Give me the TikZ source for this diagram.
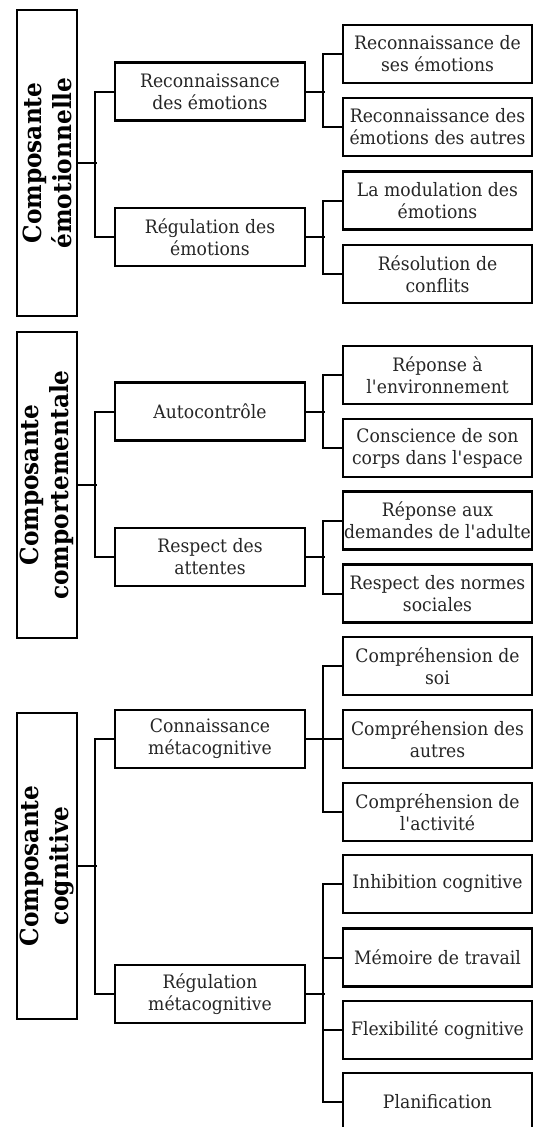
\documentclass[tikz,border=0pt]{standalone}
\usepackage{fontspec}
\setmainfont{DejaVu Serif}[FakeStretch=0.93]
\begin{document}
\begin{tikzpicture}[x=1pt,y=-1pt,
  box/.style={draw=black, line width=2.3pt, inner sep=0pt, align=center,
    font=\fontsize{18.5}{22}\selectfont, text=black!85},
  mid/.style={box, minimum width=190pt, minimum height=58pt},
  leaf/.style={box, minimum width=189pt, minimum height=58pt},
  main/.style={draw=black, line width=2.3pt, inner sep=0pt, align=center,
    minimum width=306pt, minimum height=60pt, rotate=90,
    font=\bfseries\fontsize{25}{30}\selectfont},
  link/.style={draw=black, line width=2pt}]
\useasboundingbox (0,0) rectangle (534,1127);
\fill[white] (0,0) rectangle (534,1127);
% left boxes
\node[main] (L1) at (47,163) {Composante\\émotionnelle};
\node[main] (L2) at (47,485) {Composante\\comportementale};
\node[main] (L3) at (47,866) {Composante\\cognitive};
% middle boxes
\node[mid] (M1) at (210,91.5) {Reconnaissance\\des émotions};
\node[mid] (M2) at (210,237) {Régulation des\\émotions};
\node[mid] (M3) at (210,411.5) {Autocontrôle};
\node[mid] (M4) at (210,557) {Respect des\\attentes};
\node[mid] (M5) at (210,739) {Connaissance\\métacognitive};
\node[mid] (M6) at (210,994) {Régulation\\métacognitive};
% right boxes
\node[leaf] (R1) at (437.5,54) {Reconnaissance de\\ses émotions};
\node[leaf] (R2) at (437.5,127) {Reconnaissance des\\émotions des autres};
\node[leaf] (R3) at (437.5,200.5) {La modulation des\\émotions};
\node[leaf] (R4) at (437.5,274) {Résolution de\\conflits};
\node[leaf] (R5) at (437.5,375) {Réponse à\\l\textquotesingle environnement};
\node[leaf] (R6) at (437.5,448) {Conscience de son\\corps dans l\textquotesingle espace};
\node[leaf] (R7) at (437.5,520.5) {Réponse aux\\demandes de l\textquotesingle adulte};
\node[leaf] (R8) at (437.5,593.5) {Respect des normes\\sociales};
\node[leaf] (R9) at (437.5,666) {Compréhension de\\soi};
\node[leaf] (R10) at (437.5,739) {Compréhension des\\autres};
\node[leaf] (R11) at (437.5,812) {Compréhension de\\l\textquotesingle activité};
\node[leaf] (R12) at (437.5,884) {Inhibition cognitive};
\node[leaf] (R13) at (437.5,957.5) {Mémoire de travail};
\node[leaf] (R14) at (437.5,1030) {Flexibilité cognitive};
\node[leaf] (R15) at (437.5,1102) {Planification};
% connectors left -> middle
\draw[link] (L1.south) -- ++(19,0);
\draw[link] (M1.west) -- ++(-19,0) |- (M2.west);
\draw[link] (L2.south) -- ++(19,0);
\draw[link] (M3.west) -- ++(-19,0) |- (M4.west);
\draw[link] (L3.south) -- ++(19,0);
\draw[link] (M5.west) -- ++(-19,0) |- (M6.west);
% connectors middle -> right
\draw[link] (M1.east) -- ++(19,0);
\draw[link] (R1.west) -- ++(-19,0) |- (R2.west);
\draw[link] (M2.east) -- ++(19,0);
\draw[link] (R3.west) -- ++(-19,0) |- (R4.west);
\draw[link] (M3.east) -- ++(19,0);
\draw[link] (R5.west) -- ++(-19,0) |- (R6.west);
\draw[link] (M4.east) -- ++(19,0);
\draw[link] (R7.west) -- ++(-19,0) |- (R8.west);
\draw[link] (M5.east) -- ++(19,0);
\draw[link] (R9.west) -- ++(-19,0) |- (R11.west);
\draw[link] (R10.west) -- ++(-19,0);
\draw[link] (M6.east) -- ++(19,0);
\draw[link] (R12.west) -- ++(-19,0) |- (R15.west);
\draw[link] (R13.west) -- ++(-19,0);
\draw[link] (R14.west) -- ++(-19,0);
\end{tikzpicture}
\end{document}
